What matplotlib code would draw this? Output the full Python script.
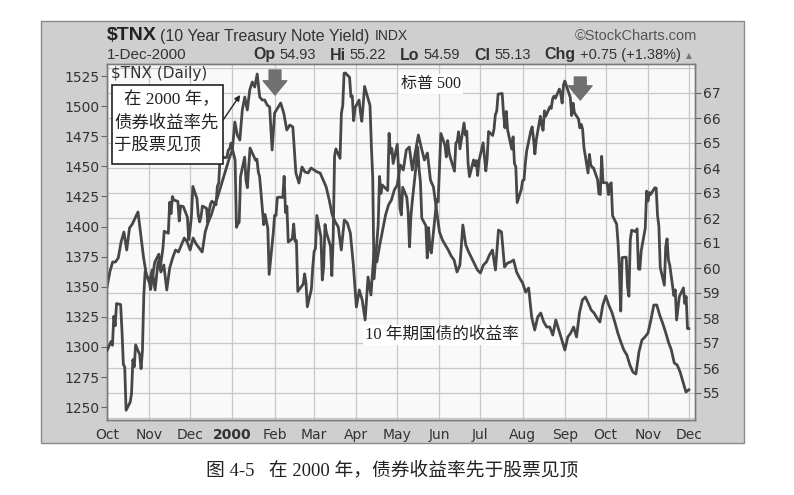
import matplotlib.pyplot as plt
from matplotlib.patches import Rectangle
import numpy as np
import pandas as pd

W, H = 794, 495
CJK = ["Liberation Serif", "Noto Sans CJK SC"]
HEAD = "Liberation Sans"
LINE = "#474747"
GRID = "#c8c8c8"

# S&P 500 daily closes (left scale), one list per month
spx_oct99 = [1297.0, 1304.6, 1301.4, 1325.4, 1317.6, 1336.0, 1335.2, 1313.0, 1285.5, 1283.4, 1247.4,
             1254.1, 1261.3, 1289.4, 1283.6, 1301.7, 1293.6, 1281.9, 1296.7, 1342.4, 1362.9]
spx_nov99 = [1354.1, 1347.7, 1354.9, 1362.6, 1370.2, 1377.0, 1365.3, 1373.5, 1381.5, 1396.1, 1394.4,
             1420.1, 1410.7, 1424.9, 1422.0, 1420.9, 1404.6, 1417.1, 1416.6, 1407.8, 1389.0]
spx_dec99 = [1397.7, 1409.0, 1433.3, 1423.3, 1409.2, 1403.9, 1408.1, 1417.0, 1415.2, 1403.2, 1413.3,
             1418.8, 1421.0, 1418.1, 1433.4, 1436.1, 1458.3, 1457.1, 1457.7, 1463.5, 1464.5, 1469.3]
spx_jan00 = [1455.2, 1399.4, 1402.1, 1403.5, 1441.5, 1457.6, 1438.6, 1432.3, 1449.7, 1465.2,
             1455.1, 1456.0, 1445.6, 1441.4, 1401.5, 1410.0, 1404.1, 1398.6, 1360.2, 1394.5]
spx_feb00 = [1409.3, 1409.1, 1424.0, 1424.4, 1424.2, 1441.7, 1411.7, 1416.8, 1387.1, 1389.9,
             1402.1, 1387.7, 1388.3, 1346.1, 1352.2, 1360.7, 1353.4, 1333.4, 1348.1, 1366.4]
spx_mar00 = [1379.2, 1381.8, 1409.2, 1391.3, 1355.6, 1366.7, 1401.7, 1395.1, 1383.6, 1359.2, 1392.1,
             1458.5, 1464.5, 1456.6, 1493.9, 1500.6, 1527.4, 1527.5, 1523.9, 1507.7, 1508.5, 1487.9, 1498.6]
spx_apr00 = [1505.0, 1494.7, 1487.4, 1501.3, 1516.4, 1504.5, 1500.6, 1467.2, 1440.5, 1356.6,
             1401.4, 1441.6, 1427.5, 1434.5, 1429.9, 1477.4, 1461.0, 1464.9, 1452.4]
spx_may00 = [1468.3, 1446.3, 1415.1, 1409.6, 1432.6, 1424.2, 1412.1, 1383.1, 1407.8, 1420.9, 1452.4,
             1466.0, 1447.8, 1437.2, 1407.0, 1400.7, 1373.9, 1399.1, 1381.5, 1378.0, 1422.5, 1420.6]
spx_jun00 = [1448.8, 1477.3, 1467.6, 1457.8, 1471.4, 1461.7, 1457.0, 1446.0, 1469.4, 1470.5, 1478.7,
             1464.5, 1486.0, 1476.0, 1479.1, 1452.2, 1441.5, 1455.3, 1450.5, 1454.8, 1442.4, 1454.6]
spx_jul00 = [1469.5, 1446.2, 1457.0, 1478.9, 1475.6, 1480.9, 1492.9, 1495.8, 1510.0, 1510.5,
             1493.7, 1482.0, 1495.6, 1480.2, 1464.3, 1474.5, 1452.4, 1449.6, 1419.9, 1430.8]
spx_aug00 = [1438.1, 1438.7, 1452.6, 1462.9, 1479.3, 1482.8, 1472.9, 1460.3, 1471.8, 1491.6, 1484.4, 1479.9,
             1496.1, 1491.7, 1499.5, 1498.1, 1506.0, 1508.3, 1506.5, 1514.1, 1509.8, 1502.6, 1517.7]
spx_sep00 = [1520.8, 1507.1, 1492.2, 1502.5, 1494.5, 1489.3, 1482.0, 1484.9, 1480.9, 1465.8,
             1444.5, 1459.9, 1451.3, 1449.1, 1448.7, 1439.0, 1427.2, 1426.6, 1458.3, 1436.5]
spx_oct00 = [1436.2, 1426.5, 1434.3, 1436.3, 1409.0, 1402.0, 1387.0, 1364.6, 1329.8, 1374.2, 1374.6,
             1350.0, 1342.1, 1388.8, 1396.9, 1395.8, 1398.1, 1364.9, 1364.4, 1379.6, 1398.7, 1429.4]
spx_nov00 = [1421.2, 1428.3, 1426.7, 1432.2, 1431.9, 1409.3, 1400.1, 1366.0, 1351.3, 1383.0, 1389.8,
             1372.3, 1367.7, 1342.6, 1347.4, 1322.4, 1341.8, 1349.0, 1336.1, 1341.9, 1315.2]
spx_dec00 = [1315.2]

# $TNX (yield x10, right scale), read along each month
tnx_oct99 = [59.24, 59.84, 60.24, 60.24, 60.40, 61.04, 61.44, 60.72, 61.60, 61.76, 62.00, 62.24, 61.32, 60.40, 59.72]
tnx_nov99 = [59.44, 59.92, 59.12, 60.24, 59.84, 60.12, 59.12, 60.00, 60.40, 60.72, 60.64, 60.92, 61.20, 61.04]
tnx_dec99 = [60.72, 61.20, 60.96, 60.80, 60.64, 61.44, 61.84, 62.12, 62.52, 62.80, 63.20, 63.60, 64.00, 64.40]
tnx_jan00 = [64.72, 65.84, 65.32, 65.12, 66.32, 66.84, 66.32, 67.12, 67.44, 67.24, 67.76, 66.84, 66.72,
             66.72, 66.52, 66.44, 64.72]
tnx_feb00 = [66.20, 66.40, 66.60, 66.20, 65.52, 65.72, 65.64, 63.80, 63.40, 64.04, 63.84, 63.80, 64.00]
tnx_mar00 = [63.92, 63.84, 63.80, 63.52, 63.24, 62.72, 62.12, 61.84, 61.64, 60.72, 61.92, 61.80, 61.40, 60.12]
tnx_apr00 = [58.44, 59.12, 58.72, 57.92, 59.64, 58.92, 60.60, 60.24, 60.92, 61.52, 62.12, 62.52, 62.72, 63.12]
tnx_may00 = [63.32, 64.12, 63.92, 64.72, 64.84, 63.92, 64.64, 65.32, 64.80, 64.32, 64.60, 63.52, 63.24, 62.32]
tnx_jun00 = [61.44, 61.12, 60.92, 60.72, 60.48, 60.32, 59.84, 60.12, 61.72, 60.92, 60.64, 60.40, 60.16, 59.92]
tnx_jul00 = [59.80, 60.12, 60.24, 60.52, 60.72, 59.92, 61.52, 61.44, 60.04, 60.20, 60.24, 60.32, 59.84, 59.60]
tnx_aug00 = [59.40, 59.04, 59.20, 58.04, 57.52, 58.04, 58.20, 57.84, 57.64, 57.64, 57.32, 57.92, 57.52, 57.12]
tnx_sep00 = [56.72, 57.24, 57.40, 57.64, 57.24, 58.20, 58.72, 58.84, 58.60, 58.32, 58.20, 58.00, 57.84, 58.52]
tnx_oct00 = [58.88, 58.52, 58.24, 57.84, 57.40, 57.04, 56.72, 56.52, 56.12, 55.84, 55.76, 56.64, 57.12, 57.24]
tnx_nov00 = [57.40, 57.92, 58.52, 58.52, 58.12, 57.80, 57.44, 57.04, 56.72, 56.20, 56.12, 55.84, 55.44, 55.04]
tnx_dec00 = [55.13]

months = ["1999-10", "1999-11", "1999-12", "2000-01", "2000-02", "2000-03", "2000-04",
          "2000-05", "2000-06", "2000-07", "2000-08", "2000-09", "2000-10", "2000-11", "2000-12"]
month_labels = ["Oct", "Nov", "Dec", "2000", "Feb", "Mar", "Apr", "May", "Jun", "Jul",
                "Aug", "Sep", "Oct", "Nov", "Dec"]
holidays = ["1999-11-25", "1999-12-24", "2000-01-17", "2000-02-21", "2000-04-21",
            "2000-05-29", "2000-07-04", "2000-09-04", "2000-11-23"]

spx_months = [spx_oct99, spx_nov99, spx_dec99, spx_jan00, spx_feb00, spx_mar00, spx_apr00, spx_may00,
              spx_jun00, spx_jul00, spx_aug00, spx_sep00, spx_oct00, spx_nov00, spx_dec00]
tnx_months = [tnx_oct99, tnx_nov99, tnx_dec99, tnx_jan00, tnx_feb00, tnx_mar00, tnx_apr00, tnx_may00,
              tnx_jun00, tnx_jul00, tnx_aug00, tnx_sep00, tnx_oct00, tnx_nov00, tnx_dec00]

# header quote for the last bar
quote_date = "1-Dec-2000"
quote = [("Op", "54.93"), ("Hi", "55.22"), ("Lo", "54.59"), ("Cl", "55.13"), ("Chg", "+0.75 (+1.38%)")]

base = pd.Timestamp("1999-10-01")

spx_x, spx_y = [], []
for m, vals in zip(months, spx_months):
    start = pd.Timestamp(m + "-01")
    end = start + pd.offsets.MonthEnd(0)
    days = pd.bdate_range(start, end, freq="C", holidays=holidays)
    for d, v in zip(days, vals):
        spx_x.append((d - base).days)
        spx_y.append(v)

tnx_x, tnx_y = [], []
for m, vals in zip(months, tnx_months):
    start = pd.Timestamp(m + "-01")
    for i, v in enumerate(vals):
        tnx_x.append((start - base).days + i * start.days_in_month / len(vals))
        tnx_y.append(v)

tick_days = [(pd.Timestamp(m + "-01") - base).days for m in months]


def fx(x):
    return x / W


def fy(y):
    return 1 - y / H


fig = plt.figure(figsize=(W / 100, H / 100), dpi=100)
fig.patch.set_facecolor("white")
renderer = fig.canvas.get_renderer()

# grey chart panel
panel = Rectangle((fx(41), fy(443)), fx(744) - fx(41), fy(21) - fy(443), transform=fig.transFigure,
                  facecolor="#cfcfcf", edgecolor="#8a8a8a", lw=1.0, zorder=-5)
fig.add_artist(panel)

ax = fig.add_axes([fx(107), fy(420), fx(695) - fx(107), fy(64) - fy(420)])
ax2 = ax.twinx()
ax.set_zorder(2)
ax.patch.set_visible(False)
ax2.set_zorder(1)
ax2.patch.set_visible(True)
ax2.patch.set_facecolor("#f9f9f9")

ax.set_xlim(0, 431.5)
ax.set_ylim(1239.3, 1535.0)
ax2.set_ylim(53.92, 68.16)

for v in range(54, 69):
    ax2.axhline(v, color=GRID, lw=0.9, zorder=0)
for t in tick_days:
    ax2.axvline(t, color=GRID, lw=0.9, zorder=0)

ax2.plot(tnx_x, tnx_y, color=LINE, lw=2.0, solid_joinstyle="round", zorder=3)
ax.plot(spx_x, spx_y, color=LINE, lw=2.0, solid_joinstyle="round", zorder=3)

ax.set_yticks(np.arange(1250, 1526, 25))
ax2.set_yticks(range(55, 68))
ax.set_xticks(tick_days)
ax.set_xticklabels(month_labels)
ax.get_xticklabels()[3].set_fontweight("bold")

ax.tick_params(axis="x", length=0, pad=6, labelsize=10, labelcolor="#333333")
ax.tick_params(axis="y", length=4, width=0.8, color="#666666", pad=1.5, labelsize=10, labelcolor="#333333")
ax2.tick_params(axis="y", length=4, width=0.8, color="#666666", pad=1.5, labelsize=10, labelcolor="#333333")
for a in (ax, ax2):
    for s in a.spines.values():
        s.set_color("#7a7a7a")
        s.set_linewidth(1.0)

# labels inside the plot
ax.text(0.006, 0.972, "$TNX (Daily)", transform=ax.transAxes, fontsize=11, color="#333333",
        ha="left", va="center", zorder=6)
ax.add_patch(Rectangle((0.0085, 0.719), 0.189, 0.222, transform=ax.transAxes,
                       facecolor="white", edgecolor="#222222", lw=1.2, zorder=5))
ax.text(0.1908, 0.899, "在 2000 年，", transform=ax.transAxes, fontsize=12.5, family=CJK,
        ha="right", va="center", color="#222222", zorder=6)
ax.text(0.0119, 0.834, "债券收益率先", transform=ax.transAxes, fontsize=12.5, family=CJK,
        ha="left", va="center", color="#222222", zorder=6)
ax.text(0.0119, 0.772, "于股票见顶", transform=ax.transAxes, fontsize=12.5, family=CJK,
        ha="left", va="center", color="#222222", zorder=6)
ax2.annotate("", xy=(97.7, 66.92), xytext=(85.2, 65.92),
             arrowprops=dict(arrowstyle="-|>", color="#222222", lw=1.0, mutation_scale=8,
                             shrinkA=0, shrinkB=0), zorder=6)

# grey "top" arrows
for xd, tip, tail in [(123.3, 66.92, 67.92), (347.3, 66.72, 67.64)]:
    ax2.annotate("", xy=(xd, tip), xytext=(xd, tail),
                 arrowprops=dict(arrowstyle="simple,head_length=0.6,head_width=1.0,tail_width=0.5",
                                 fc="#707070", ec="#707070", mutation_scale=17,
                                 shrinkA=0, shrinkB=0), zorder=6)

ax.text(0.5, 0.944, "标普 500", transform=ax.transAxes, fontsize=11.5, family=CJK, color="#222222",
        ha="left", va="center", zorder=6,
        bbox=dict(facecolor="white", edgecolor="none", pad=1.5))
ax.text(0.4388, 0.2388, "10 年期国债的收益率", transform=ax.transAxes, fontsize=12, family=CJK,
        color="#222222", ha="left", va="center", zorder=6,
        bbox=dict(facecolor="white", edgecolor="none", pad=1.5))

# header line 1
t = fig.text(fx(107), fy(35), "$TNX", fontsize=14, fontweight="bold", family=HEAD,
             color="#222222", va="center")
x = 107 + t.get_window_extent(renderer).width + 3
t = fig.text(fx(x), fy(36), "(10 Year Treasury Note Yield)", fontsize=11.5, family=HEAD,
             color="#333333", va="center")
x += t.get_window_extent(renderer).width + 6
fig.text(fx(x), fy(36), "INDX", fontsize=10, family=HEAD, color="#333333", va="center")
fig.text(fx(697), fy(36), "\u00a9StockCharts.com", fontsize=10.5, family=HEAD, color="#555555",
         va="center", ha="right")

# header line 2
fig.text(fx(107), fy(55), quote_date, fontsize=11, family=HEAD, color="#333333", va="center")
x = 253
for label, val in quote:
    t = fig.text(fx(x), fy(55), label, fontsize=11.5, fontweight="bold", family=HEAD,
                 color="#333333", va="center")
    x += t.get_window_extent(renderer).width + 4
    t = fig.text(fx(x), fy(55), val, fontsize=10.5, family=HEAD, color="#333333", va="center")
    x += t.get_window_extent(renderer).width + 14
fig.text(fx(686), fy(56), "\u25b2", fontsize=5.5, color="#777777", va="center")

# caption
fig.text(fx(206), fy(470), "图 4-5   在 2000 年，债券收益率先于股票见顶", fontsize=13.5, family=CJK,
         color="#222222", va="center")

fig.savefig("out.png", dpi=100)
